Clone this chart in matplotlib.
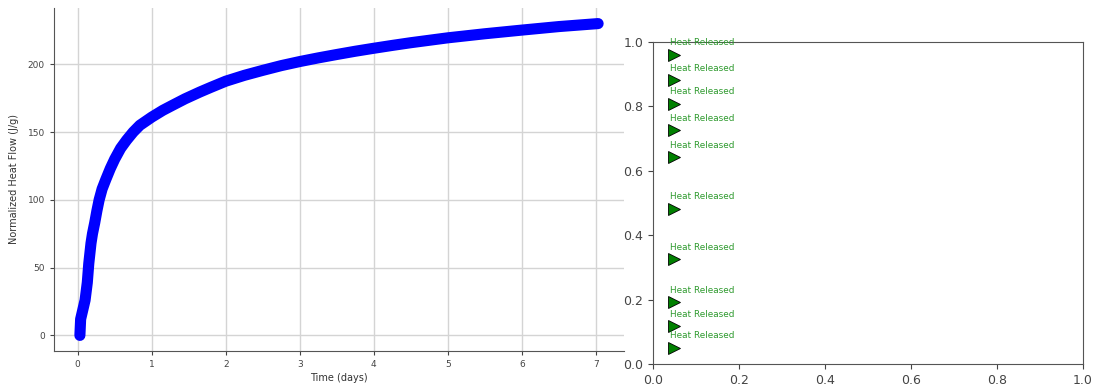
import matplotlib
matplotlib.use("Agg")
import matplotlib.pyplot as plt

# heat flow curve
time_days = [0.03, 0.04, 0.07, 0.10, 0.13, 0.15, 0.18, 0.20, 0.23, 0.26, 0.29,
             0.33, 0.38, 0.44, 0.50, 0.58, 0.66, 0.75, 0.84, 0.92, 1.0, 1.15,
             1.29, 1.45, 1.65, 1.8, 2.0, 2.25, 2.5, 2.75, 3.0, 3.25, 3.5, 3.75,
             4.0, 4.25, 4.5, 5.0, 5.5, 6.0, 6.5, 7.03]
heat_flow = [0, 12, 19, 26, 39, 53, 68, 75, 83, 92, 100,
             108, 115, 123, 130, 138, 144, 150, 155, 158, 161, 166,
             170, 174.5, 179.5, 183, 187.5, 191.8, 195.5, 199, 202, 204.7, 207.2, 209.6,
             211.8, 213.9, 215.9, 219.5, 222.5, 225.2, 227.8, 230]

# "Heat Released" markers on the right panel
marker_x = [0.05] * 10
marker_y = [0.960, 0.882, 0.809, 0.726, 0.643, 0.482, 0.326, 0.191, 0.118, 0.051]
marker_label = "Heat Released"

fig = plt.figure(figsize=(10.95, 3.9), dpi=100)

# left panel
ax1 = fig.add_axes([0.0493, 0.1, 0.5206, 0.8795])
ax1.plot(time_days, heat_flow, '-', color='blue', lw=8,
         solid_capstyle='round', solid_joinstyle='round')
ax1.grid(True, color='#d4d4d4', lw=1.0)
ax1.set_axisbelow(True)
ax1.spines['top'].set_visible(False)
ax1.spines['right'].set_visible(False)
for s in ['left', 'bottom']:
    ax1.spines[s].set_color('#555555')
ax1.tick_params(labelsize=6.5, colors='#444444', length=3)
ax1.set_xlabel('Time (days)', fontsize=7, color='#333333', labelpad=3)
ax1.set_ylabel('Normalized Heat Flow (J/g)', fontsize=7, color='#333333', labelpad=6)

# right panel
ax2 = fig.add_axes([0.5963, 0.0667, 0.3927, 0.8256])
ax2.plot(marker_x, marker_y, '>', color='green', ms=9, mec='black', mew=0.6, ls='none')
for xx, yy in zip(marker_x, marker_y):
    ax2.text(xx - 0.01, yy + 0.037, marker_label, color='#2e9a2e', fontsize=6.4,
             va='center', ha='left')
ax2.set_xlim(0, 1)
ax2.set_ylim(0, 1)
for s in ax2.spines.values():
    s.set_color('#555555')
ax2.tick_params(labelsize=9, colors='#444444')

fig.savefig('out.png', dpi=100)
